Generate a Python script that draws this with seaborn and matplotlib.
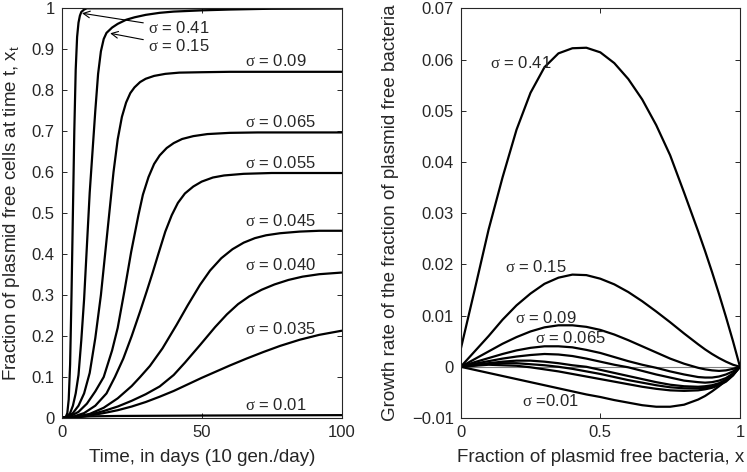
import numpy as np
import pandas as pd
import seaborn as sns
import matplotlib.pyplot as plt
from matplotlib.ticker import FixedLocator, FuncFormatter

# ---------------- left panel: x_t against time (days) ----------------
t_041 = [0, 1, 1.5, 2, 2.5, 3, 3.5, 4, 4.5, 5, 5.5, 6, 6.5, 7, 8, 9, 100]
x_041 = [0, 0, 0.003, 0.012, 0.045, 0.13, 0.3, 0.5, 0.7, 0.85, 0.93, 0.965, 0.982, 0.991, 0.997, 1.0, 1.0]

t_015 = [0, 2, 3, 4, 5, 6, 7, 8, 9, 10, 11, 12, 13, 14, 15, 16, 18, 20, 23, 26, 30, 35, 40, 50, 60, 75, 100]
x_015 = [0, 0.004, 0.012, 0.03, 0.06, 0.105, 0.19, 0.29, 0.42, 0.55, 0.65, 0.75, 0.84, 0.895, 0.925, 0.94,
         0.953, 0.962, 0.972, 0.978, 0.984, 0.989, 0.992, 0.995, 0.997, 0.999, 1.0]

t_009 = [0, 2, 4, 6, 8, 10, 12, 14, 15.5, 17, 18.5, 20, 21.5, 23, 24.5, 26, 28, 30, 33, 37, 42, 50, 60, 100]
x_009 = [0, 0.003, 0.012, 0.03, 0.06, 0.11, 0.195, 0.3, 0.4, 0.5, 0.6, 0.68, 0.735, 0.77, 0.793, 0.807,
         0.82, 0.828, 0.835, 0.84, 0.843, 0.844, 0.845, 0.845]

t_0065 = [0, 3, 6, 9, 12, 15, 18, 20, 22.4, 24.8, 27.4, 29, 31, 33, 35, 37.5, 40, 43, 47, 52, 60, 70, 100]
x_0065 = [0, 0.004, 0.015, 0.035, 0.065, 0.1, 0.165, 0.22, 0.31, 0.405, 0.495, 0.545, 0.588, 0.62, 0.641,
          0.659, 0.671, 0.681, 0.688, 0.693, 0.696, 0.697, 0.697]

t_0055 = [0, 4, 8, 12, 16, 19, 22, 25, 28, 30.4, 32.5, 34.5, 37, 39.3, 41.5, 44, 47, 50, 54, 58, 65, 75, 100]
x_0055 = [0, 0.003, 0.012, 0.03, 0.06, 0.1, 0.145, 0.2, 0.26, 0.31, 0.355, 0.4, 0.455, 0.495, 0.525, 0.548,
          0.565, 0.577, 0.587, 0.592, 0.596, 0.598, 0.598]

t_0045 = [0, 5, 10, 15, 20, 25, 28, 31.5, 36, 41, 45, 49.4, 53, 57, 61, 65, 69, 73, 78, 85, 92, 100]
x_0045 = [0, 0.003, 0.01, 0.025, 0.048, 0.078, 0.1, 0.127, 0.17, 0.227, 0.275, 0.325, 0.36, 0.39, 0.412,
          0.428, 0.439, 0.446, 0.451, 0.455, 0.457, 0.457]

t_0040 = [0, 5, 10, 15, 20, 25, 30, 35, 40, 44, 49.4, 54.8, 59, 63, 67, 71.4, 76, 81, 86, 92, 100]
x_0040 = [0, 0.003, 0.008, 0.017, 0.028, 0.042, 0.058, 0.077, 0.105, 0.135, 0.178, 0.222, 0.253, 0.278,
          0.297, 0.313, 0.326, 0.337, 0.345, 0.351, 0.355]

t_0035 = [0, 5, 10, 15, 20, 25, 30, 35, 40, 45, 50, 55, 60, 66, 72, 78, 85, 92, 100]
x_0035 = [0, 0.002, 0.006, 0.012, 0.019, 0.028, 0.039, 0.052, 0.066, 0.082, 0.098, 0.113, 0.128, 0.145,
          0.161, 0.176, 0.191, 0.203, 0.213]

t_001 = [0, 5, 10, 20, 50, 100]
x_001 = [0, 0.002, 0.004, 0.005, 0.006, 0.007]

# ---------------- right panel: growth rate against x ----------------
frac = [0, 0.05, 0.1, 0.15, 0.2, 0.25, 0.3, 0.35, 0.4, 0.45, 0.5, 0.55, 0.6, 0.65, 0.7, 0.75, 0.8,
        0.85, 0.875, 0.9, 0.925, 0.95, 0.975, 1.0]
g_041 = [0.0034, 0.015, 0.0268, 0.037, 0.0463, 0.0535, 0.0585, 0.0612, 0.0622, 0.0623, 0.0614, 0.0593,
         0.0562, 0.0522, 0.0472, 0.0413, 0.034, 0.0265, 0.0226, 0.0185, 0.0142, 0.0097, 0.005, 0]
g_015 = [0, 0.003, 0.006, 0.0092, 0.012, 0.0143, 0.0162, 0.0174, 0.018, 0.0179, 0.0172, 0.0161,
         0.0146, 0.0128, 0.0108, 0.0087, 0.0065, 0.0044, 0.0034, 0.0025, 0.0017, 0.001, 0.0004, 0]
g_009 = [0, 0.0015, 0.003, 0.0045, 0.0058, 0.0069, 0.0077, 0.0081, 0.0081, 0.0078, 0.0072, 0.0063,
         0.0052, 0.004, 0.0028, 0.0016, 0.0006, -0.0002, -0.0005, -0.0007, -0.0008, -0.0007, -0.0004, 0]
g_0065 = [0, 0.0009, 0.0017, 0.0025, 0.0032, 0.0037, 0.004, 0.004, 0.0038, 0.0033, 0.0027, 0.0019,
          0.0011, 0.0004, -0.0002, -0.0009, -0.0015, -0.002, -0.0021, -0.0021, -0.0019, -0.0015, -0.0009, 0]
g_0055 = [0, 0.0006, 0.0011, 0.0016, 0.002, 0.0023, 0.0025, 0.0024, 0.0021, 0.0016, 0.001, 0.0004,
          -0.0001, -0.0008, -0.0015, -0.0021, -0.0027, -0.003, -0.0031, -0.003, -0.0027, -0.0022, -0.0013, 0]
g_0045 = [0, 0.0004, 0.0007, 0.001, 0.0012, 0.0012, 0.001, 0.0007, 0.0003, 0.0, -0.0006, -0.0012,
          -0.0018, -0.0024, -0.003, -0.0035, -0.0038, -0.0039, -0.0038, -0.0036, -0.0032, -0.0025, -0.0015, 0]
g_0040 = [0, 0.0003, 0.0006, 0.0007, 0.0007, 0.0005, 0.0003, 0.0, -0.0004, -0.0009, -0.0014, -0.002,
          -0.0026, -0.0031, -0.0036, -0.004, -0.0042, -0.0042, -0.0041, -0.0038, -0.0034, -0.0027, -0.0016, 0]
g_0035 = [0, 0.0002, 0.0004, 0.0003, 0.0002, -0.0001, -0.0005, -0.0009, -0.0014, -0.0019, -0.0024, -0.0029,
          -0.0034, -0.0039, -0.0043, -0.0046, -0.0047, -0.0046, -0.0044, -0.0041, -0.0036, -0.0029, -0.0017, 0]
g_001 = [0, -0.0006, -0.0012, -0.0018, -0.0024, -0.003, -0.0036, -0.0042, -0.0048, -0.0054, -0.0059, -0.0065,
         -0.007, -0.0075, -0.0078, -0.0078, -0.0074, -0.0064, -0.0057, -0.0048, -0.0038, -0.0027, -0.0014, 0]

left_curves = [(t_041, x_041), (t_015, x_015), (t_009, x_009), (t_0065, x_0065), (t_0055, x_0055),
               (t_0045, x_0045), (t_0040, x_0040), (t_0035, x_0035), (t_001, x_001)]
right_curves = [g_041, g_015, g_009, g_0065, g_0055, g_0045, g_0040, g_0035, g_001]

sns.set_style('ticks', {'xtick.direction': 'in', 'ytick.direction': 'in'})
plt.rcParams['font.family'] = ['Liberation Sans', 'DejaVu Sans']
plt.rcParams['mathtext.fontset'] = 'custom'
plt.rcParams['mathtext.rm'] = 'Liberation Serif'
plt.rcParams['axes.linewidth'] = 0.8

fig = plt.figure(figsize=(7.47, 4.72), dpi=100)
ax1 = fig.add_axes([0.0826, 0.1144, 0.3748, 0.868])
ax2 = fig.add_axes([0.6167, 0.1144, 0.3739, 0.868])

for t, x in left_curves:
    sns.lineplot(x=t, y=x, ax=ax1, color='black', linewidth=1.6, estimator=None)

ax2.axhline(0, color='0.5', linewidth=0.8)
for g in right_curves:
    sns.lineplot(x=frac, y=g, ax=ax2, color='black', linewidth=1.6, estimator=None)

sig = r'$\mathrm{\sigma}$'
fs = 12
ax1.annotate(sig + ' = 0.41', xy=(7.25, 0.988), xytext=(30.8, 0.951), fontsize=fs, va='center',
             arrowprops=dict(arrowstyle='->', color='black', lw=0.8, shrinkA=1, shrinkB=0))
ax1.annotate(sig + ' = 0.15', xy=(17.3, 0.939), xytext=(30.8, 0.907), fontsize=fs, va='center',
             arrowprops=dict(arrowstyle='->', color='black', lw=0.8, shrinkA=1, shrinkB=0))
for lab, yy in [('0.09', 0.871), ('0.065', 0.723), ('0.055', 0.623), ('0.045', 0.480),
                ('0.040', 0.373), ('0.035', 0.217), ('0.01', 0.032)]:
    ax1.text(65.5, yy, sig + ' = ' + lab, fontsize=fs, va='center')

for lab, xx, yy in [(' = 0.41', 0.105, 0.0593), (' = 0.15', 0.159, 0.0195), (' = 0.09', 0.194, 0.0096),
                    (' = 0.065', 0.266, 0.0057), (' =0.01', 0.218, -0.0067)]:
    ax2.text(xx, yy, sig + lab, fontsize=fs, va='center')

ax1.set_xlim(0, 100)
ax1.set_ylim(0, 1)
ax1.xaxis.set_major_locator(FixedLocator([0, 50, 100]))
ax1.yaxis.set_major_locator(FixedLocator(np.round(np.arange(0, 1.01, 0.1), 1)))
ax2.set_xlim(0, 1)
ax2.set_ylim(-0.01, 0.07)
ax2.xaxis.set_major_locator(FixedLocator([0, 0.5, 1]))
ax2.yaxis.set_major_locator(FixedLocator(np.round(np.arange(-0.01, 0.0701, 0.01), 2)))

fmt = FuncFormatter(lambda v, p: ('%g' % round(v, 3)).replace('-', '\u2212'))
for ax in (ax1, ax2):
    ax.xaxis.set_major_formatter(fmt)
    ax.yaxis.set_major_formatter(fmt)
    ax.tick_params(direction='in', length=3.5, width=0.7, labelsize=12, top=True, right=True, pad=5)
    for s in ax.spines.values():
        s.set_visible(True)
        s.set_linewidth(0.8)

ax1.set_xlabel('Time, in days (10 gen./day)', fontsize=13.5)
ax1.set_ylabel(r'Fraction of plasmid free cells at time t, x$_\mathregular{t}$', fontsize=13.5)
ax2.set_xlabel('Fraction of plasmid free bacteria, x', fontsize=13.5)
ax2.set_ylabel('Growth rate of the fraction of plasmid free bacteria', fontsize=13.5)
ax1.xaxis.set_label_coords(0.5, -0.076)
ax2.xaxis.set_label_coords(0.5, -0.076)
ax1.yaxis.set_label_coords(-0.142, 0.5)
ax2.yaxis.set_label_coords(-0.221, 0.5)

fig.savefig('out.png', dpi=100)
